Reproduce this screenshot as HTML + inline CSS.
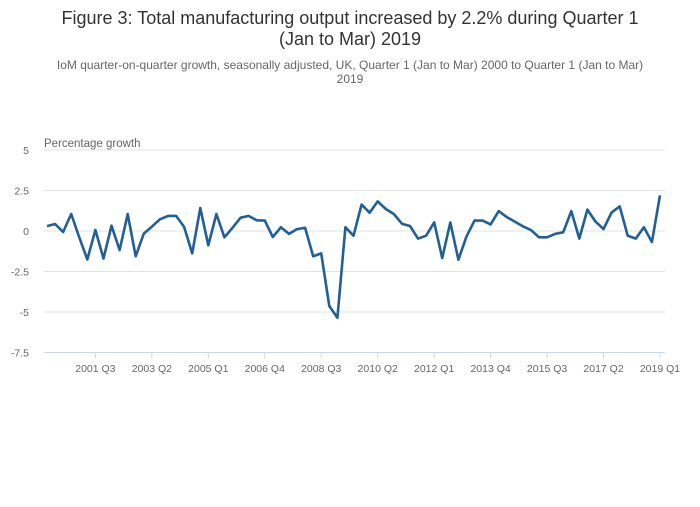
<!DOCTYPE html>
<html><head><meta charset="utf-8"><style>
body{margin:0;background:#fff;font-family:"Liberation Sans",sans-serif;}
</style></head><body>
<svg width="700" height="502" xmlns="http://www.w3.org/2000/svg">
<text x="350" y="24" text-anchor="middle" font-size="18" fill="#333">Figure 3: Total manufacturing output increased by 2.2% during Quarter 1</text>
<text x="350" y="45" text-anchor="middle" font-size="18" fill="#333">(Jan to Mar) 2019</text>
<text x="350" y="69" text-anchor="middle" font-size="12" fill="#666">IoM quarter-on-quarter growth, seasonally adjusted, UK, Quarter 1 (Jan to Mar) 2000 to Quarter 1 (Jan to Mar)</text>
<text x="350" y="83" text-anchor="middle" font-size="12" fill="#666">2019</text>
<text x="44" y="147" font-size="11.5" fill="#666">Percentage growth</text>
<g id="grid"></g><g id="xaxis"></g><g id="plot"></g>
</svg>
<script>
const yTicks=[5,2.5,0,-2.5,-5,-7.5];
const yTickLabels=["5","2.5","0","-2.5","-5","-7.5"];
const xTickIdx=[6,13,20,27,34,41,48,55,62,69,76];
const xTickLabels=["2001 Q3","2003 Q2","2005 Q1","2006 Q4","2008 Q3","2010 Q2","2012 Q1","2013 Q4","2015 Q3","2017 Q2","2019 Q1"];
const values=[0.3,0.43,-0.06,1.05,-0.4,-1.75,0.06,-1.7,0.33,-1.17,1.05,-1.56,-0.16,0.27,0.72,0.93,0.93,0.25,-1.38,1.42,-0.88,1.05,-0.39,0.2,0.82,0.93,0.66,0.64,-0.37,0.23,-0.18,0.12,0.2,-1.56,-1.38,-4.63,-5.35,0.23,-0.29,1.63,1.13,1.83,1.36,1.05,0.45,0.31,-0.47,-0.29,0.53,-1.67,0.53,-1.77,-0.35,0.64,0.64,0.41,1.23,0.86,0.58,0.29,0.06,-0.39,-0.39,-0.18,-0.08,1.23,-0.47,1.32,0.58,0.12,1.15,1.52,-0.29,-0.47,0.23,-0.68,2.2];
const NS="http://www.w3.org/2000/svg";
const x=i=>47+i*(613/76);
const y=v=>231-v*16.2;
const grid=document.getElementById('grid'),xa=document.getElementById('xaxis'),plot=document.getElementById('plot');
function mk(t,a,p){const e=document.createElementNS(NS,t);for(const k in a)e.setAttribute(k,a[k]);p.appendChild(e);return e;}
yTicks.forEach((v,i)=>{
 if(v!==-7.5){const l=mk('line',{x1:44,x2:665,y1:y(v),y2:y(v),stroke:'#e2e2e2','stroke-width':1},grid);
 
 }
 const t=mk('text',{x:29,y:y(v)+4,'text-anchor':'end','font-size':10.5,fill:'#666'},grid);t.textContent=yTickLabels[i];
 
 
});
const ax=mk('line',{x1:44,x2:665,y1:y(-7.5),y2:y(-7.5),stroke:'#ccd6eb','stroke-width':1},xa);


xTickIdx.forEach((idx,i)=>{
 mk('line',{x1:x(idx),x2:x(idx),y1:y(-7.5),y2:y(-7.5)+6,stroke:'#ccd6eb'},xa);
 const t=mk('text',{x:x(idx),y:372,'text-anchor':'middle','font-size':10.5,fill:'#666'},xa);t.textContent=xTickLabels[i];
 
 
});
const p=mk('path',{d:values.map((v,i)=>(i?'L':'M')+x(i).toFixed(1)+' '+y(v).toFixed(1)).join(' '),fill:'none',stroke:'#206095','stroke-width':2.6,'stroke-linejoin':'round'},plot);


</script>
</body></html>
